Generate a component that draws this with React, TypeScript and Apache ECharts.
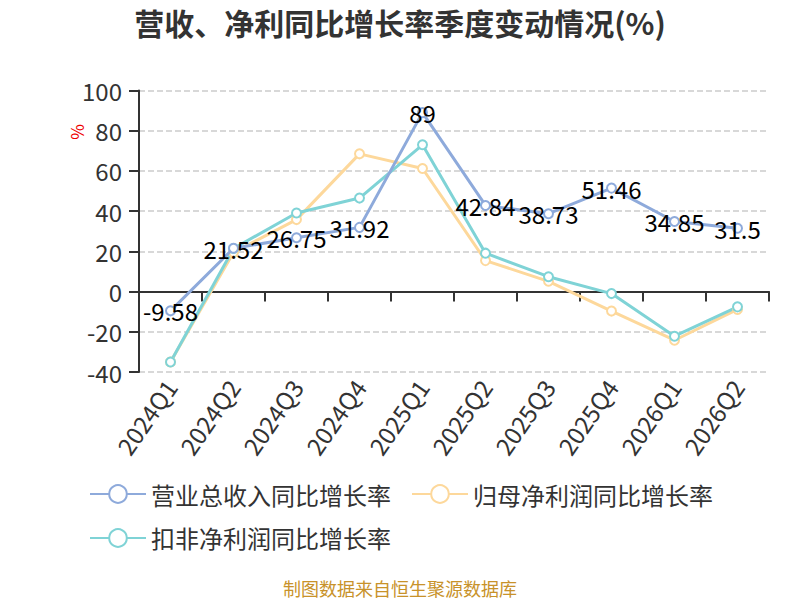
import React, { useEffect, useRef } from "react";
import * as echarts from "echarts";

const categories = ["2024Q1", "2024Q2", "2024Q3", "2024Q4", "2025Q1", "2025Q2", "2025Q3", "2025Q4", "2026Q1", "2026Q2"];
const revenueGrowth = [-9.58, 21.52, 26.75, 31.92, 89, 42.84, 38.73, 51.46, 34.85, 31.5];
const netProfitGrowth = [-35, 19.5, 35.8, 68.5, 61.2, 15.4, 5.1, -9.7, -24.2, -8.9];
const deductedProfitGrowth = [-35, 21.4, 39.1, 46.5, 73, 19.1, 7.4, -1, -22.2, -7.6];
const yTicks = { min: -40, max: 100, interval: 20 };

const FONT = "'Noto Sans CJK SC', 'Noto Sans', sans-serif";

export default function App() {
  const ref = useRef<HTMLDivElement>(null);
  useEffect(() => {
    document.body.style.margin = "0";
    if (!ref.current) return;
    const chart = echarts.init(ref.current, null, { renderer: "svg" });
    const mkSeries = (name: string, data: number[], color: string, label: boolean) => ({
      name,
      type: "line",
      xAxisIndex: 0,
      data,
      symbol: "emptyCircle",
      symbolSize: 9,
      lineStyle: { width: 3, color },
      itemStyle: { color, borderWidth: 2 },
      label: label
        ? { show: true, position: "inside", fontSize: 24, color: "#000", fontFamily: FONT }
        : { show: false },
      z: label ? 3 : 2,
    });
    chart.setOption({
      animation: false,
      textStyle: { fontFamily: FONT },
      title: {
        text: "营收、净利同比增长率季度变动情况(%)",
        left: "center",
        top: 2,
        textStyle: { fontSize: 30, fontWeight: "bold", color: "#333", fontFamily: FONT },
      },
      grid: { left: 139, right: 31, top: 90.5, bottom: 228, containLabel: false },
      legend: {
        left: 84,
        top: 477,
        width: 660,
        itemWidth: 56,
        itemHeight: 22,
        itemGap: 20,
        textStyle: { fontSize: 24, color: "#333", fontFamily: FONT },
        data: ["营业总收入同比增长率", "归母净利润同比增长率", "扣非净利润同比增长率"],
      },
      xAxis: [
        {
          type: "category",
          data: categories,
          boundaryGap: true,
          axisLine: { onZero: true, lineStyle: { color: "#333", width: 2 } },
          axisTick: { show: true, length: 10, lineStyle: { color: "#333", width: 2 } },
          axisLabel: { show: false },
        },
        {
          type: "category",
          data: categories,
          position: "bottom",
          boundaryGap: true,
          axisLine: { show: false },
          axisTick: { show: false },
          axisLabel: { show: true, rotate: 55, fontSize: 24, color: "#333", margin: 10, fontFamily: FONT },
        },
      ],
      yAxis: {
        type: "value",
        min: yTicks.min,
        max: yTicks.max,
        interval: yTicks.interval,
        axisLine: { show: true, lineStyle: { color: "#333", width: 2 } },
        axisTick: { show: true, length: 10, lineStyle: { color: "#333", width: 2 } },
        axisLabel: { fontSize: 24, color: "#333", margin: 17, fontFamily: FONT },
        splitLine: { show: true, lineStyle: { type: "dashed", color: "#ccc", width: 1.5 } },
      },
      graphic: [
        {
          type: "text",
          x: 76,
          y: 132,
          rotation: Math.PI / 2,
          style: { text: "%", fill: "#e00", fontSize: 17, fontFamily: FONT, align: "center", verticalAlign: "middle" },
        },
        {
          type: "text",
          x: 400,
          y: 588,
          style: { text: "制图数据来自恒生聚源数据库", fill: "#c8922a", fontSize: 18, fontFamily: FONT, align: "center", verticalAlign: "middle" },
        },
      ],
      series: [
        mkSeries("营业总收入同比增长率", revenueGrowth, "#8eaadb", true),
        mkSeries("归母净利润同比增长率", netProfitGrowth, "#fdd89b", false),
        mkSeries("扣非净利润同比增长率", deductedProfitGrowth, "#7fd3d6", false),
      ],
    });
    return () => chart.dispose();
  }, []);
  return <div ref={ref} style={{ width: 800, height: 600 }} />;
}
